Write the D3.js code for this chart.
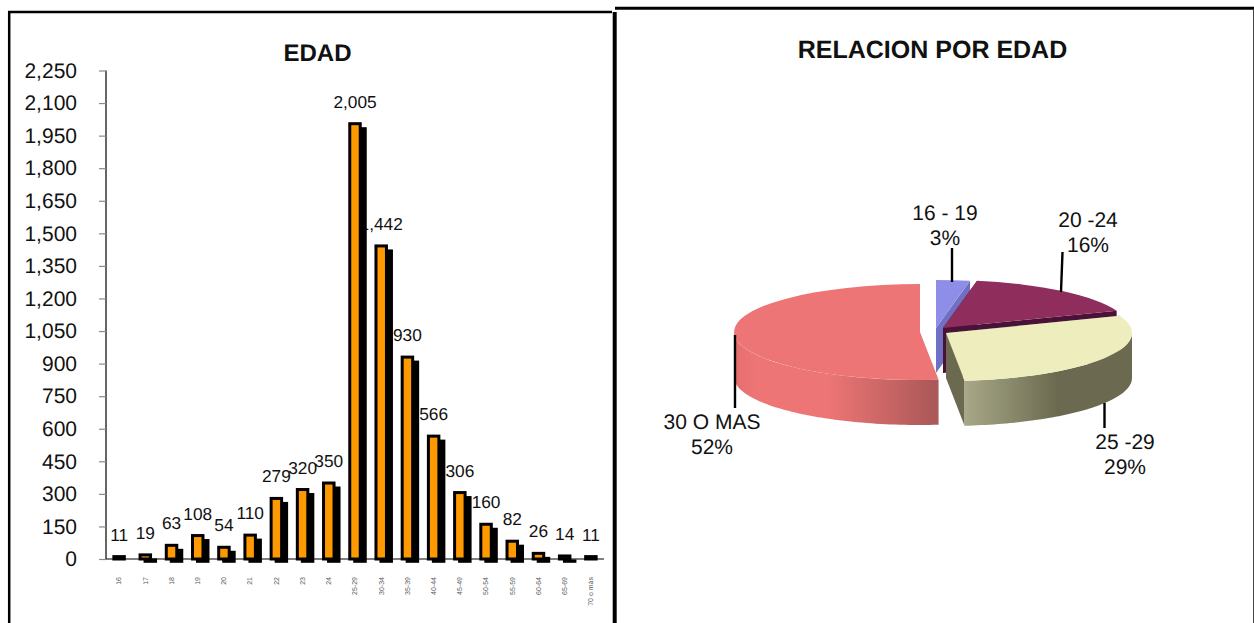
<!DOCTYPE html>
<html><head><meta charset="utf-8">
<script src="https://cdn.jsdelivr.net/npm/d3@7"></script>
<style>
html,body{margin:0;padding:0;background:#fff}
svg{display:block;opacity:.999}
text{font-family:"Liberation Sans",Arial,sans-serif;fill:#111;text-rendering:geometricPrecision}
</style></head><body>
<svg id="c" width="1254" height="623"></svg>
<script>
const ageCategories=["16","17","18","19","20","21","22","23","24","25-29","30-34","35-39","40-44","45-49","50-54","55-59","60-64","65-69","70 o más"];
const ageValues=[11,19,63,108,54,110,279,320,350,2005,1442,930,566,306,160,82,26,14,11];
const yTicks=[0,150,300,450,600,750,900,1050,1200,1350,1500,1650,1800,1950,2100,2250];
const pieLabels=["16 - 19","20 -24","25 -29","30 O MAS"];
const pieValues=[201,1113,2005,3537];

const svg=d3.select("#c");
const fmt=d3.format(",");

// frames
const frame=svg.append("g").attr("fill","none").attr("stroke","#000");
frame.append("path").attr("d","M9.2,623V12H612").attr("stroke-width",2.5);
frame.append("path").attr("d","M614.7,623V12").attr("stroke-width",4);
frame.append("path").attr("d","M615,8.2H1254").attr("stroke-width",3);
frame.append("path").attr("d","M1253.5,9V623").attr("stroke-width",1).attr("stroke","#444");

// ---- bar chart
const y=d3.scaleLinear().domain([0,2250]).range([559,70.5]);
const x=d3.scaleBand().domain(ageCategories).range([106,604]).paddingInner(0.6).paddingOuter(0.3);
const sw=3, offs=5;

svg.append("text").attr("x",317.5).attr("y",61).attr("text-anchor","middle")
  .attr("font-weight","bold").attr("font-size",24).text("EDAD");

const yAxis=d3.axisLeft(y).tickValues(yTicks).tickFormat(fmt).tickSize(7).tickPadding(22);
const gy=svg.append("g").attr("transform","translate(106,0)").call(yAxis);
gy.select(".domain").attr("stroke","#000").attr("stroke-width",1.2).attr("d","M0,70.5V559");
gy.selectAll(".tick line").attr("stroke","#8a8a8a").attr("stroke-width",1.2);
gy.selectAll(".tick text").attr("font-size",21).attr("font-family",'"Liberation Sans",Arial,sans-serif').attr("fill","#111");

// labels first: the bars cover them
svg.append("g").selectAll("text").data(ageValues).join("text")
  .attr("x",(d,i)=>x(ageCategories[i])+x.bandwidth()/2)
  .attr("y",d=>y(d)-16).attr("text-anchor","middle").attr("font-size",17.3).text(fmt);

svg.append("g").selectAll("rect").data(ageValues).join("rect")
  .attr("x",(d,i)=>x(ageCategories[i])+offs)
  .attr("y",d=>y(d)+offs)
  .attr("width",x.bandwidth())
  .attr("height",d=>Math.max(0,y(0)-y(d)-2.7))
  .attr("fill","#000").attr("stroke","#000").attr("stroke-width",sw);
svg.append("g").selectAll("rect").data(ageValues).join("rect")
  .attr("x",(d,i)=>x(ageCategories[i]))
  .attr("y",d=>y(d))
  .attr("width",x.bandwidth())
  .attr("height",d=>y(0)-y(d))
  .attr("fill","#FF9900").attr("stroke","#000").attr("stroke-width",sw);

svg.append("line").attr("x1",106).attr("x2",604).attr("y1",559).attr("y2",559)
  .attr("stroke","#000").attr("stroke-width",1.2);

svg.append("g").selectAll("text").data(ageCategories).join("text")
  .attr("transform",d=>`translate(${x(d)+x.bandwidth()/2+2.3},577) rotate(-90)`)
  .attr("text-anchor","end").attr("font-size",7).style("fill","#555").text(d=>d);

// ---- pie chart
svg.append("text").attr("x",932.5).attr("y",58).attr("text-anchor","middle")
  .attr("font-weight","bold").attr("font-size",25).text("RELACION POR EDAD");

const rx=186, ry=48, depth=45;
const centers=[[936,328],[943,328],[946,333],[920,332]];
const topCol=["#8E8EE8","#8F2E5C","#EDEDBE","#EE7575"];
const sideCol=["#6F70C4","#4A1238","#6B6A50","#E87272"];
const angles=d3.pie().sort(null)(pieValues);
const total=d3.sum(pieValues);
const arc=d3.arc().innerRadius(0).outerRadius(1);
const defs=svg.append("defs");

function grad(id,x1,x2,stops){
  const g=defs.append("linearGradient").attr("id",id).attr("gradientUnits","userSpaceOnUse")
    .attr("x1",x1).attr("x2",x2).attr("y1",0).attr("y2",0);
  stops.forEach(s=>g.append("stop").attr("offset",s[0]).attr("stop-color",s[1]));
}
grad("wCream",965,1133,[[0,"#A8A888"],[0.55,"#6B6A50"],[1,"#6B6A50"]]);
grad("wRed",735,940,[[0,"#E46E6E"],[0.1,"#EE7575"],[0.45,"#EE7575"],[1,"#A85757"]]);

const pt=(c,a,dz=0)=>[c[0]+rx*Math.sin(a),c[1]-ry*Math.cos(a)+dz];
function wallPath(c,a0,a1){
  const n=64, pts=d3.range(n+1).map(i=>a0+(a1-a0)*i/n);
  const top=pts.map(a=>pt(c,a)), bot=pts.map(a=>pt(c,a,depth)).reverse();
  return d3.line()(top.concat(bot))+"Z";
}
const cutPath=(c,a)=>{
  const p=pt(c,a);
  return d3.line()([[c[0],c[1]],p,[p[0],p[1]+depth],[c[0],c[1]+depth]])+"Z";
};
const pieG=svg.append("g");
function drawSlice(i){
  const s=angles[i], c=centers[i];
  const g=pieG.append("g");
  if(i===0){
    g.append("path").attr("d",cutPath(c,s.endAngle)).attr("fill",sideCol[0]);
  }
  if(i===1){
    g.append("path").attr("d",cutPath(c,s.endAngle)).attr("fill",sideCol[1]);
    g.append("path").attr("d",cutPath(c,s.startAngle)).attr("fill",sideCol[1]);
  }
  if(i===2){
    g.append("path").attr("d",cutPath(c,s.startAngle)).attr("fill",sideCol[2]);
    g.append("path").attr("d",cutPath(c,s.endAngle)).attr("fill",sideCol[2]);
    g.append("path").attr("d",wallPath(c,Math.PI/2,s.endAngle)).attr("fill","url(#wCream)");
  }
  if(i===3){
    g.append("path").attr("d",wallPath(c,s.startAngle,Math.PI*1.5)).attr("fill","url(#wRed)");
  }
  g.append("path").attr("transform",`translate(${c[0]},${c[1]}) scale(${rx},${ry})`)
    .attr("d",arc(s)).attr("fill",topCol[i]);
}
[0,3,1,2].forEach(drawSlice);

const leaders=[[[952,248],[952,282]],[[1062.5,252],[1061,292]],[[1104.5,403],[1104.5,428]],[[735,335],[735,408]]];
svg.append("g").selectAll("line").data(leaders).join("line")
  .attr("x1",d=>d[0][0]).attr("y1",d=>d[0][1]).attr("x2",d=>d[1][0]).attr("y2",d=>d[1][1])
  .attr("stroke","#000").attr("stroke-width",2.4);

const labelPos=[[945,220],[1088,227],[1125,449],[712,429]];
const labs=svg.append("g").selectAll("text").data(pieLabels).join("text")
  .attr("text-anchor","middle").attr("font-size",21)
  .attr("transform",(d,i)=>`translate(${labelPos[i][0]},${labelPos[i][1]})`);
labs.append("tspan").attr("x",0).attr("y",0).text(d=>d);
labs.append("tspan").attr("x",0).attr("y",24.5).text((d,i)=>Math.round(pieValues[i]/total*100)+"%");
</script></body></html>
